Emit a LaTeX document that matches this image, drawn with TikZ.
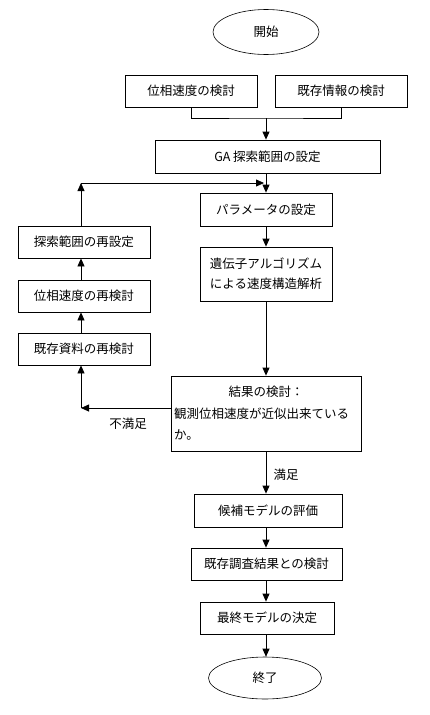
\documentclass[tikz,border=0pt]{standalone}
\usepackage{fontspec}
\setmainfont{Noto Sans CJK JP}
\usetikzlibrary{arrows.meta,shapes.geometric}
\begin{document}
\begin{tikzpicture}[x=1pt,y=-1pt,line width=.8pt,>={Triangle[width=7pt,length=8pt]},
  box/.style={draw,rectangle,minimum height=32pt,inner sep=0pt,font=\fontsize{12.5}{20}\selectfont},
  term/.style={draw,ellipse,line width=.6pt,inner sep=0pt,font=\fontsize{12.5}{20}\selectfont},
  lbl/.style={font=\fontsize{12.5}{20}\selectfont}]
\useasboundingbox (0,0) rectangle (430,715);
% main column
\node[term,minimum width=106pt,minimum height=45pt] (start) at (266,32) {開始};
\node[box,minimum width=132pt] (phase) at (191,91) {位相速度の検討};
\node[box,minimum width=132pt] (info) at (341,91) {既存情報の検討};
\node[box,minimum width=225pt,minimum height=33pt] (ga) at (267.5,156.5) {GA 探索範囲の設定};
\node[box,minimum width=132pt,minimum height=33pt] (param) at (266,209.5) {パラメータの設定};
\node[box,minimum width=132pt,minimum height=54pt,align=center] (alg) at (266,274) {遺伝子アルゴリズム\\による速度構造解析};
\node[box,minimum width=190pt,minimum height=75pt,text width=184pt,align=left,
  font=\fontsize{12.5}{21.5}\selectfont] (result) at (266,413.5)
  {\makebox[184pt]{結果の検討：}\\観測位相速度が近似出来ている\\か。};
\node[box,minimum width=148pt,minimum height=33pt] (cand) at (268,510.5) {候補モデルの評価};
\node[box,minimum width=151pt] (comp) at (266.5,564) {既存調査結果との検討};
\node[box,minimum width=134pt] (final) at (267,618) {最終モデルの決定};
\node[term,minimum width=113pt,minimum height=42pt] (end) at (265,678) {終了};
% left column
\node[box,minimum width=132pt] (reset) at (84,242) {探索範囲の再設定};
\node[box,minimum width=132pt] (rephase) at (84,296) {位相速度の再検討};
\node[box,minimum width=132pt] (redata) at (84,349) {既存資料の再検討};
\coordinate (col) at (81,0);
\coordinate (mrg) at (266,118);
\coordinate (fbl) at (81,408);
\coordinate (fbt) at (81,183);
\coordinate (fbr) at (264,183);
% connectors
\draw (phase.south) |- (mrg) -| (info.south);
\draw[->] (mrg) -- (mrg |- ga.north);
\draw[->] (ga.south -| param) -- (param.north);
\draw[->] (param) -- (alg);
\draw[->] (alg) -- (result);
\draw[->] (result.south) -- (result.south |- cand.north) node[lbl,midway,right=4pt,yshift=-2pt] (ok) {満足};
\draw[->] (cand.south -| mrg) -- (comp.north -| mrg);
\draw[->] (comp.south -| mrg) -- (final.north -| mrg);
\draw[->] (final.south -| mrg) -- (end.north -| mrg);
\draw[->] (result.west |- fbl) -- (fbl);
\node[lbl] (ng) at (128,424) {不満足};
\draw[->] (fbl) -- (redata.south -| col);
\draw[->] (redata.north -| col) -- (rephase.south -| col);
\draw[->] (rephase.north -| col) -- (reset.south -| col);
\draw[->] (reset.north -| col) -- (fbt);
\draw[->] (fbt) -- (fbr);
\end{tikzpicture}
\end{document}
